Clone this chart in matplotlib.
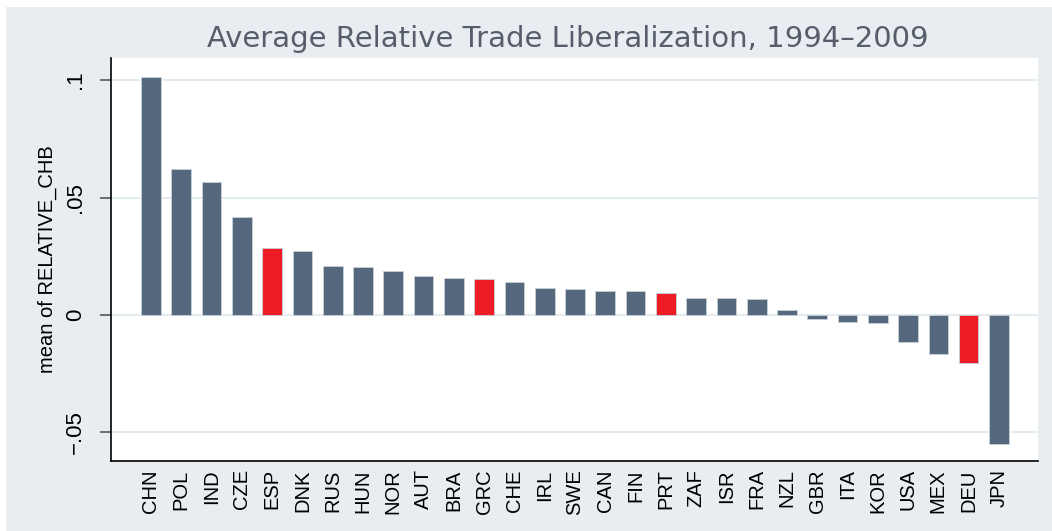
import matplotlib
matplotlib.use("Agg")
import matplotlib.pyplot as plt
import matplotlib.patches as patches

# values
countries = ["CHN", "POL", "IND", "CZE", "ESP", "DNK", "RUS", "HUN", "NOR", "AUT",
             "BRA", "GRC", "CHE", "IRL", "SWE", "CAN", "FIN", "PRT", "ZAF", "ISR",
             "FRA", "NZL", "GBR", "ITA", "KOR", "USA", "MEX", "DEU", "JPN"]
relative_chb = [0.1014, 0.0620, 0.0566, 0.0418, 0.0285, 0.0272, 0.0208, 0.0204, 0.0189, 0.0167,
                0.0157, 0.0153, 0.0140, 0.0115, 0.0111, 0.0104, 0.0100, 0.0094, 0.0072, 0.0070,
                0.0066, 0.0023, -0.0018, -0.0032, -0.0035, -0.0116, -0.0167, -0.0205, -0.0548]
highlight = ["ESP", "GRC", "PRT", "DEU"]
yticks = [-0.05, 0, 0.05, 0.1]
yticklabels = ["\u2212.05", "0", ".05", ".1"]

W, H = 1052, 531
fig = plt.figure(figsize=(W / 100, H / 100), dpi=100)
fig.patch.set_facecolor("white")
bg = "#E8EDF1"
fig.patches.append(patches.Rectangle((6 / W, 0), 1 - 6 / W, (H - 7) / H,
                                     transform=fig.transFigure, facecolor=bg,
                                     edgecolor="none", zorder=-10))

ax = fig.add_axes([111 / W, (H - 461) / H, (1038 - 111) / W, (461 - 58) / H])
ax.set_zorder(1)
ax.set_facecolor("white")

colors = ["#EE1C25" if c in highlight else "#56687E" for c in countries]
x = range(len(countries))
ax.bar(x, relative_chb, width=0.65, color=colors, edgecolor="#C9D1DA",
       linewidth=0.6, zorder=3)

narrow = "Liberation Sans"
ax.set_xlim(-1.32, len(countries) - 1 + 1.29)
ax.set_ylim(-0.0622, 0.1094)
ax.set_yticks(yticks)
ax.set_yticklabels(yticklabels, rotation=90, va="center", family=narrow, fontsize=16)
ax.set_xticks(list(x))
ax.set_xticklabels(countries, rotation=90, family=narrow, fontsize=14.5)
ax.tick_params(axis="x", length=0, pad=6)
ax.tick_params(axis="y", length=8, width=1.2, color="#555555", pad=10)
ax.grid(axis="y", color="#E4ECF0", linewidth=1.5, zorder=0)
ax.set_axisbelow(True)

for s in ["top", "right"]:
    ax.spines[s].set_visible(False)
for s in ["left", "bottom"]:
    ax.spines[s].set_color("black")
    ax.spines[s].set_linewidth(1.2)

ax.set_ylabel("mean of RELATIVE_CHB", family=narrow, fontsize=14.5, labelpad=6)
fig.text(568 / W, (H - 39) / H, "Average Relative Trade Liberalization, 1994\u20132009",
         ha="center", va="center", fontsize=21, color="#585D6C")

fig.savefig("out.png", dpi=100, facecolor=fig.get_facecolor())
